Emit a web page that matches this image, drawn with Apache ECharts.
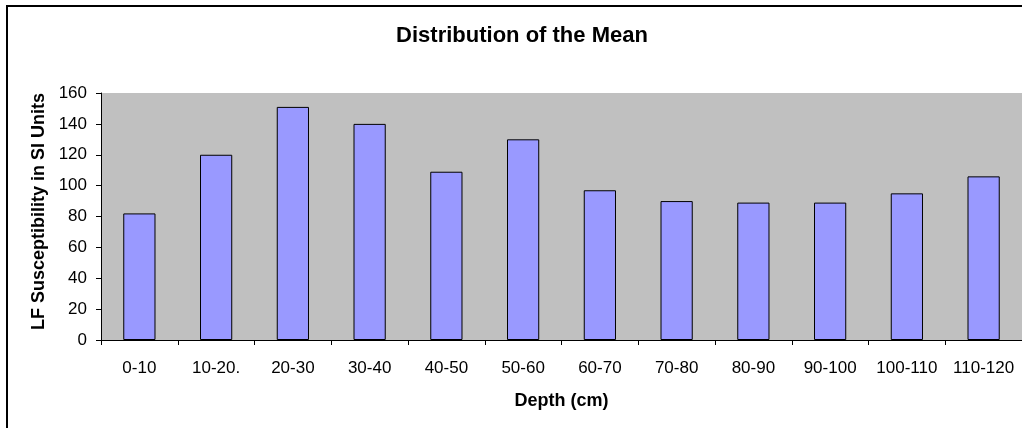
<!DOCTYPE html>
<html>
<head>
<meta charset="utf-8">
<script src="https://cdn.jsdelivr.net/npm/echarts@6/dist/echarts.min.js"></script>
<style>
  html, body { margin: 0; padding: 0; background: #fff; }
  #chart { width: 1022px; height: 428px; }
</style>
</head>
<body>
<div id="chart"></div>
<script>
var depths = ['0-10', '10-20.', '20-30', '30-40', '40-50', '50-60', '60-70', '70-80', '80-90', '90-100', '100-110', '110-120'];
var meanValues = [82, 120, 151, 140, 109, 130, 97, 90, 89, 89, 95, 106];
var yMin = 0;
var yMax = 160;
var yStep = 20;

var font = "'Liberation Sans', Arial, sans-serif";

$chart = echarts.init(document.getElementById('chart'));

var option = {
    animation: false,
    backgroundColor: '#fff',
    textStyle: { fontFamily: font },

    title: {
        text: 'Distribution of the Mean',
        left: 522,
        textAlign: 'center',
        top: 25,
        padding: 0,
        textStyle: { fontFamily: font, fontSize: 22, fontWeight: 'bold', color: '#000' }
    },

    //外框
    graphic: [{
        type: 'rect',
        shape: { x: 7, y: 6, width: 1100, height: 500 },
        style: { fill: null, stroke: '#000', lineWidth: 2 },
        silent: true
    }],

    grid: {
        left: 101,
        right: 0,
        top: 93,
        bottom: 88,
        show: true,
        backgroundColor: '#c0c0c0',
        borderWidth: 0
    },

    xAxis: {
        type: 'category',
        data: depths,
        name: 'Depth (cm)',
        nameLocation: 'middle',
        nameGap: 52,
        nameTextStyle: { fontFamily: font, fontSize: 18, fontWeight: 'bold', color: '#000' },
        axisLine: { lineStyle: { color: '#000', width: 1 } },
        axisTick: { show: true, length: 5, lineStyle: { color: '#000' } },
        axisLabel: { fontFamily: font, fontSize: 17, color: '#000', margin: 20, interval: 0 },
        splitLine: { show: false }
    },

    yAxis: {
        type: 'value',
        min: yMin,
        max: yMax,
        interval: yStep,
        name: 'LF Susceptibility in SI Units',
        nameLocation: 'middle',
        nameGap: 50,
        nameTextStyle: { fontFamily: font, fontSize: 18, fontWeight: 'bold', color: '#000', padding: [0, 0, 0, 10] },
        axisLine: { show: true, lineStyle: { color: '#000', width: 1 } },
        axisTick: { show: true, length: 5, lineStyle: { color: '#000' } },
        axisLabel: { fontFamily: font, fontSize: 17, color: '#000', margin: 14 },
        splitLine: { show: false }
    },

    series: [{
        type: 'bar',
        data: meanValues,
        barCategoryGap: '58%',
        itemStyle: { color: '#9999ff', borderColor: '#000', borderWidth: 1 }
    }]
};

$chart.setOption(option);
</script>
</body>
</html>
